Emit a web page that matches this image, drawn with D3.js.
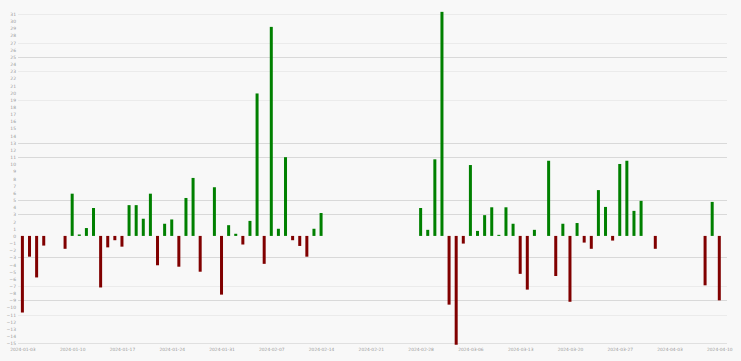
<!DOCTYPE html>
<html>
<head>
<meta charset="utf-8">
<script src="https://cdn.jsdelivr.net/npm/d3@7"></script>
<style>
  html, body { margin: 0; padding: 0; background: #f8f8f8; }
  svg { display: block; }
</style>
</head>
<body>
<script>
// ---- data ----
const dates = [
  "2024-01-03","2024-01-04","2024-01-05","2024-01-06",
  "2024-01-09","2024-01-10","2024-01-11","2024-01-12","2024-01-13","2024-01-14","2024-01-15","2024-01-16",
  "2024-01-17","2024-01-18","2024-01-19","2024-01-20","2024-01-21","2024-01-22","2024-01-23","2024-01-24",
  "2024-01-25","2024-01-26","2024-01-27","2024-01-28",
  "2024-01-30","2024-01-31","2024-02-01","2024-02-02","2024-02-03","2024-02-04","2024-02-05","2024-02-06",
  "2024-02-07","2024-02-08","2024-02-09","2024-02-10","2024-02-11","2024-02-12","2024-02-13","2024-02-14",
  "2024-02-28","2024-02-29","2024-03-01","2024-03-02","2024-03-03","2024-03-04","2024-03-05","2024-03-06",
  "2024-03-07","2024-03-08","2024-03-09","2024-03-10","2024-03-11","2024-03-12","2024-03-13","2024-03-14",
  "2024-03-15",
  "2024-03-17","2024-03-18","2024-03-19","2024-03-20","2024-03-21","2024-03-22","2024-03-23","2024-03-24",
  "2024-03-25","2024-03-26","2024-03-27","2024-03-28","2024-03-29","2024-03-30",
  "2024-04-01",
  "2024-04-08","2024-04-09","2024-04-10"
];
const values = [
  -10.7, -2.9, -5.8, -1.35,
  -1.8, 5.9, 0.2, 1.1, 3.9, -7.2, -1.6, -0.6,
  -1.5, 4.3, 4.3, 2.4, 5.9, -4.1, 1.7, 2.3,
  -4.3, 5.3, 8.1, -5.0,
  6.8, -8.2, 1.5, 0.3, -1.2, 2.1, 19.9, -3.9,
  29.2, 1.0, 11.0, -0.6, -1.4, -2.9, 1.0, 3.2,
  3.9, 0.85, 10.7, 31.3, -9.6, -15.2, -1.07, 9.9,
  0.7, 2.9, 4.0, 0.15, 4.0, 1.7, -5.3, -7.5,
  0.85,
  10.5, -5.6, 1.7, -9.2, 1.8, -0.93, -1.8, 6.4,
  4.05, -0.65, 10.05, 10.5, 3.5, 4.9,
  -1.8,
  -6.9, 4.75, -9.0
];
const xTickLabels = [
  "2024-01-03","2024-01-10","2024-01-17","2024-01-24","2024-01-31","2024-02-07","2024-02-14","2024-02-21",
  "2024-02-28","2024-03-06","2024-03-13","2024-03-20","2024-03-27","2024-04-03","2024-04-10"
];
const yTickValues = d3.range(-15, 32);
const gridDark = [25, 13, 11, 5, 3, -3, -9];
const gridLight = [31, 27, 23, 19, -7, -11];

// ---- layout ----
const W = 741, H = 361;
const plotLeft = 18, plotRight = 727;
const parse = d3.timeParse("%Y-%m-%d");

const x = d3.scaleTime()
  .domain([parse("2024-01-03"), parse("2024-04-10")])
  .range([22.4, 719.3]);
const y = d3.scaleLinear()
  .domain([-15, 31])
  .range([343.3, 14]);

const svg = d3.select("body").append("svg")
  .attr("width", W).attr("height", H);

svg.append("rect").attr("width", W).attr("height", H).attr("fill", "#f8f8f8");

// gridlines
svg.append("g").selectAll("line").data(gridLight).join("line")
  .attr("x1", plotLeft).attr("x2", plotRight)
  .attr("y1", d => Math.round(y(d)) + 0.5).attr("y2", d => Math.round(y(d)) + 0.5)
  .attr("stroke", "#ebebeb").attr("stroke-width", 1);
svg.append("g").selectAll("line").data(gridDark).join("line")
  .attr("x1", plotLeft).attr("x2", plotRight)
  .attr("y1", d => Math.round(y(d)) + 0.5).attr("y2", d => Math.round(y(d)) + 0.5)
  .attr("stroke", "#d9d9d9").attr("stroke-width", 1);

// y axis labels
const yAxis = d3.axisLeft(y).tickValues(yTickValues).tickSize(0).tickPadding(2)
  .tickFormat(d3.format("d"));
const yg = svg.append("g").attr("transform", `translate(${plotLeft},0)`).call(yAxis);
yg.select(".domain").remove();
yg.selectAll("text")
  .attr("font-family", "DejaVu Sans, sans-serif")
  .attr("font-size", 4.5)
  .attr("fill", "#999");

// x axis
const xAxis = d3.axisBottom(x)
  .tickValues(xTickLabels.map(parse))
  .tickSize(0).tickPadding(4)
  .tickFormat(d3.timeFormat("%Y-%m-%d"));
const xg = svg.append("g").attr("transform", `translate(0,${Math.round(y(-15)) + 0.5})`).call(xAxis);
xg.select(".domain").remove();
xg.selectAll("text")
  .attr("font-family", "DejaVu Sans, sans-serif")
  .attr("font-size", 4.4)
  .attr("fill", "#999");
svg.append("line")
  .attr("x1", plotLeft).attr("x2", plotRight)
  .attr("y1", Math.round(y(-15)) + 0.5).attr("y2", Math.round(y(-15)) + 0.5)
  .attr("stroke", "#e0e0e0");

// bars
const data = dates.map((d, i) => ({ date: parse(d), value: values[i] }));
const barW = 3;
svg.append("g").selectAll("rect").data(data).join("rect")
  .attr("x", d => x(d.date) - barW / 2)
  .attr("width", barW)
  .attr("y", d => Math.min(y(d.value), y(0)))
  .attr("height", d => Math.abs(y(d.value) - y(0)))
  .attr("fill", d => d.value >= 0 ? "#008000" : "#800000");
</script>
</body>
</html>
